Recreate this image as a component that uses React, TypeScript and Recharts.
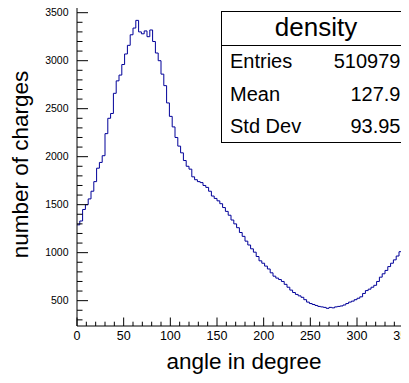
import { LineChart, Line, XAxis, YAxis, ReferenceLine } from "recharts"

// angle bins (lower edge, degrees), 3 degree wide
const binWidth = 3
const counts = [
  1290, 1330, 1450, 1500, 1560, 1640, 1740, 1880, 1940, 2010,
  2240, 2400, 2450, 2660, 2790, 2850, 2960, 3070, 3160, 3270,
  3340, 3420, 3300, 3280, 3310, 3250, 3320, 3200, 3080, 3000,
  2860, 2740, 2560, 2420, 2310, 2200, 2110, 2040, 1960, 1900,
  1870, 1790, 1760, 1740, 1730, 1700, 1680, 1640, 1590, 1565,
  1540, 1510, 1470, 1430, 1390, 1340, 1300, 1260, 1210, 1170,
  1120, 1080, 1040, 1005, 960, 915, 890, 860, 830, 790,
  755, 735, 720, 700, 670, 640, 610, 585, 565, 550,
  535, 510, 485, 470, 460, 450, 440, 435, 430, 420,
  430, 425, 435, 440, 445, 455, 470, 485, 495, 510,
  525, 540, 575, 605, 620, 640, 660, 700, 745, 780,
  815, 855, 890, 925, 965, 1010, 1060, 1110, 1160, 1200,
]

const xTicks = Array.from({ length: 37 }, (_, i) => i * 10)
const yTicks = Array.from({ length: 34 }, (_, i) => 300 + i * 100)

const stats = [
  ["Entries", "510979"],
  ["Mean", "127.9"],
  ["Std Dev", "93.95"],
]

const data = counts.map((c, i) => ({ deg: i * binWidth, count: c }))
data.push({ deg: counts.length * binWidth, count: counts[counts.length - 1] })

const font = "'Liberation Sans', Arial, Helvetica, sans-serif"

const XTick = (props: any) => {
  const { x, y, payload } = props
  const major = payload.value % 50 === 0
  return (
    <g>
      <line x1={x} x2={x} y1={y} y2={y - (major ? 8.5 : 4.3)} stroke="#000" />
      {major && (
        <text x={x} y={y + 14} textAnchor="middle" fontSize={12.5} fontFamily={font} fill="#000">
          {payload.value}
        </text>
      )}
    </g>
  )
}

const YTick = (props: any) => {
  const { x, y, payload } = props
  const major = payload.value % 500 === 0
  return (
    <g>
      <line x1={x} x2={x + (major ? 11 : 5.5)} y1={y} y2={y} stroke="#000" />
      {major && (
        <text x={x - 8.5} y={y} dy="0.36em" textAnchor="end" fontSize={10.5} fontFamily={font} fill="#000">
          {payload.value}
        </text>
      )}
    </g>
  )
}

export default function App() {
  return (
    <div
      style={{
        marginLeft: -8,
        marginTop: -8,
        width: 409,
        height: 383,
        overflow: "hidden",
        position: "relative",
        background: "#fff",
        fontFamily: font,
      }}
    >
      <LineChart
        width={430}
        height={383}
        data={data}
        margin={{ top: 3, right: 17, bottom: 56, left: 76 }}
      >
        <XAxis
          type="number"
          dataKey="deg"
          domain={[0, 360]}
          allowDataOverflow
          ticks={xTicks}
          interval={0}
          height={1}
          tickSize={0}
          tickMargin={0}
          tick={<XTick />}
          axisLine={{ stroke: "#000" }}
          tickLine={false}
        />
        <YAxis
          type="number"
          domain={[236, 3601]}
          allowDataOverflow
          ticks={yTicks}
          interval={0}
          width={1}
          tickSize={0}
          tickMargin={0}
          tick={<YTick />}
          axisLine={{ stroke: "#000" }}
          tickLine={false}
        />
        <ReferenceLine y={3601} stroke="#000" />
        <Line
          type="stepAfter"
          dataKey="count"
          stroke="#000099"
          strokeWidth={1}
          dot={false}
          isAnimationActive={false}
        />
      </LineChart>
      <svg
        width={409}
        height={383}
        style={{ position: "absolute", left: 0, top: 0, pointerEvents: "none" }}
        fontFamily={font}
      >
        <text x={244} y={369} textAnchor="middle" fontSize={22.5} fill="#000">
          angle in degree
        </text>
        <text
          x={28}
          y={164.5}
          transform="rotate(-90 28 164.5)"
          textAnchor="middle"
          fontSize={22.5}
          fill="#000"
        >
          number of charges
        </text>
        <rect x={221.5} y={11.5} width={190} height={131} fill="#fff" stroke="#000" />
        <line x1={221.5} x2={411.5} y1={45.5} y2={45.5} stroke="#000" />
        <text x={316} y={35.7} textAnchor="middle" fontSize={26} fill="#000">
          density
        </text>
        {stats.map(([k, v], i) => (
          <g key={k}>
            <text x={230} y={68.3 + i * 32.5} fontSize={20} fill="#000">
              {k}
            </text>
            <text x={400.5} y={68.3 + i * 32.5} textAnchor="end" fontSize={20} fill="#000">
              {v}
            </text>
          </g>
        ))}
      </svg>
    </div>
  )
}
